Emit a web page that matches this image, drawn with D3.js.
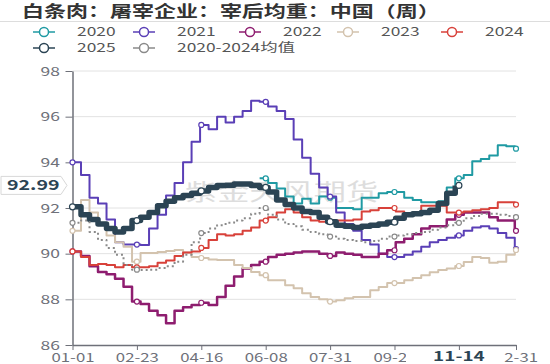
<!DOCTYPE html>
<html>
<head>
<meta charset="utf-8">
<script src="https://cdn.jsdelivr.net/npm/d3@7"></script>
<style>
  body { margin: 0; background: #fff; }
  text { font-family: "Noto Sans CJK SC", "Noto Sans", sans-serif; }
</style>
</head>
<body>
<div id="chart"></div>
<script>
// Tick labels (daily axis, leap-year index) and y ticks
const tickDays = [0, 53, 106, 159, 212, 265, 318, 365];
const tickLabels = ["01-01", "02-23", "04-16", "06-08", "07-31", "09-22", "11-14", "12-31"];
const yTicks = [86, 88, 90, 92, 94, 96, 98];

// Weekly values, week i starts at day i*7
const s2020 = [null, null, null, null, null, null, null, null, null, null, null,
  null, null, null, null, null, null, null, null, null, null, null,
  93.3, 93.1, 92.85, 92.5, 92.2, 92.4, 92.2, 92.5, 92.45, 92.0, 92.0, 91.95, 92.45, 92.45,
  92.65, 92.7, 92.7, 92.45, 92.35, 92.25, 92.25, 92.3, 92.9, 93.3, 93.45, 94.05, 94.15, 94.3,
  94.75, 94.7, 94.6];
const s2021 = [94.0, 93.45, 92.45, 92.2, 91.5, 90.5, 90.4, 90.4, 90.38, 91.1, 91.7, 92.55, 93.1,
  94.0, 94.9, 95.64, 95.45, 96.0, 95.75, 96.0, 96.25, 96.7, 96.65, 96.45, 96.25, 95.9, 95.0,
  94.2, 93.5, 92.9, 92.5, 91.8, 91.3, 91.0, 90.6, 90.4, 90.0, 89.85, 89.85, 89.95, 90.1, 90.3,
  90.5, 90.6, 90.7, 90.8, 91.0, 91.15, 91.2, 91.1, 90.9, 90.7, 90.2];
const s2022 = [90.1, 89.9, 89.45, 89.2, 89.1, 88.9, 88.55, 87.9, 87.8, 87.5, 87.3, 86.95, 87.5,
  87.65, 87.75, 87.85, 87.75, 88.1, 88.6, 89.0, 89.35, 89.5, 89.65, 89.85, 89.95, 90.0, 90.05,
  90.1, 90.1, 90.0, 89.9, 90.05, 90.0, 89.95, 89.85, 89.85, 90.0, 90.15, 90.5, 90.65, 90.85,
  91.1, 91.2, 91.2, 91.5, 91.7, 91.8, 91.8, 91.8, 91.6, 91.45, 91.45, 91.0];
const s2023 = [91.0, 92.35, 91.8, 91.35, 90.8, 90.5, 90.3, 89.65, 90.03, 90.03, 90.07, 90.12,
  90.16, 90.05, 89.85, 89.81, 89.75, 89.72, 89.72, 89.5, 89.37, 89.2, 89.06, 88.84, 88.84,
  88.62, 88.49, 88.27, 88.1, 88.0, 87.9, 87.96, 88.05, 88.1, 88.1, 88.4, 88.54, 88.71, 88.71,
  88.84, 88.93, 89.06, 89.19, 89.28, 89.35, 89.46, 89.63, 89.85, 89.81, 89.6, 89.65, 89.95, 90.16];
const s2024 = [90.1, 89.85, 89.5, 89.55, 89.5, 89.4, 89.5, 89.4, 89.4, 89.45, 89.6, 89.7, 89.9,
  90.05, 90.1, 90.25, 90.6, 90.85, 90.8, 90.85, 91.0, 91.15, 91.45, 91.6, 91.8, 91.95, 91.8,
  91.6, 91.45, 91.4, 91.4, 91.45, 91.45, 91.5, 91.85, 91.9, 92.0, 92.0, 91.85, 91.75, 91.75,
  92.1, 92.1, 92.1, 91.8, 91.8, 91.85, 91.9, 91.95, 92.0, 92.25, 92.25, 92.15];
const s2025 = [92.05, 91.7, 91.5, 91.3, 91.1, 90.95, 91.1, 91.45, 91.6, 91.8, 92.1, 92.3, 92.45,
  92.55, 92.65, 92.75, 92.9, 92.98, 93.0, 93.05, 93.05, 92.98, 92.9, 92.7, 92.35, 92.15, 92.0,
  91.85, 91.8, 91.6, 91.4, 91.25, 91.2, 91.15, 91.2, 91.25, 91.3, 91.38, 91.55, 91.7, 91.75,
  91.8, 91.9, 92.2, 92.65, 92.99];
const sAvg = [91.35, 91.45, 90.95, 90.6, 90.25, 89.95, 89.5, 89.3, 89.28, 89.3, 89.37, 89.45,
  89.65, 89.95, 90.5, 90.9, 91.1, 91.25, 91.35, 91.45, 91.55, 91.75, 92.0, 91.7, 91.5, 91.3,
  91.2, 91.05, 90.95, 90.85, 90.75, 90.65, 90.6, 90.55, 90.5, 90.55, 90.65, 90.75, 90.8, 90.85,
  90.9, 90.95, 91.05, 91.15, 91.25, 91.35, 91.55, 91.65, 91.75, 91.75, 91.7, 91.65, 91.6];

const series = [
  { name: "2020", values: s2020, color: "#1f9aa3", width: 2 },
  { name: "2021", values: s2021, color: "#5a3fb6", width: 2 },
  { name: "2022", values: s2022, color: "#8e1d6f", width: 2.5 },
  { name: "2023", values: s2023, color: "#d3c3ae", width: 2 },
  { name: "2024", values: s2024, color: "#d8413a", width: 2 },
  { name: "2025", values: s2025, color: "#2b4454", width: 5.5 },
  { name: "2020-2024均值", values: sAvg, color: "#8a8a8a", width: 2, dash: "2,3" }
];

const SX = 1.4; // the picture is stretched sideways

const svg = d3.select("#chart")
  .append("svg")
  .attr("width", 550)
  .attr("height", 364);

const x = d3.scaleLinear().domain([0, 365]).range([72.5, 516]);
const y = d3.scaleLinear().domain([86, 98]).range([345, 71]);

// Title + separator
svg.append("text")
  .attr("transform", `translate(22,17) scale(1.42,1)`)
  .attr("font-size", 15.5)
  .attr("font-weight", "bold")
  .attr("fill", "#333")
  .text("白条肉：屠宰企业：宰后均重：中国（周）");
svg.append("line")
  .attr("x1", 0).attr("x2", 550)
  .attr("y1", 21.5).attr("y2", 21.5)
  .attr("stroke", "#ddd");

// Legend
const legendPos = [[44, 32], [144, 32], [250, 32], [348, 32], [452, 32], [44, 48], [144, 48]];
series.forEach(function (s, i) {
  const p = legendPos[i];
  const g = svg.append("g");
  g.append("line")
    .attr("x1", p[0] - 11).attr("x2", p[0] + 11)
    .attr("y1", p[1]).attr("y2", p[1])
    .attr("stroke", s.color).attr("stroke-width", 1.5);
  g.append("circle")
    .attr("cx", p[0]).attr("cy", p[1]).attr("r", 4.5)
    .attr("fill", "#fff").attr("stroke", s.color).attr("stroke-width", 1.5);
  g.append("text")
    .attr("transform", `translate(${p[0] + 33},${p[1]}) scale(1.45,1)`)
    .attr("dy", "0.35em")
    .attr("font-size", 12)
    .attr("fill", "#555")
    .text(s.name);
});

// Grid lines
svg.append("g")
  .selectAll("line")
  .data(yTicks.slice(1))
  .join("line")
  .attr("x1", x(0)).attr("x2", x(365))
  .attr("y1", d => y(d)).attr("y2", d => y(d))
  .attr("stroke", "#e2e2e2");

// Watermark
svg.append("text")
  .attr("transform", `translate(185,200) scale(${SX},1)`)
  .attr("font-size", 23)
  .attr("fill", "#c8c8c8")
  .attr("opacity", 0.6)
  .text("紫金天风期货");

// Y axis
const yAxis = svg.append("g")
  .attr("transform", `translate(${x(0)},0)`)
  .call(d3.axisLeft(y).tickValues(yTicks).tickSize(7).tickSizeOuter(0));
yAxis.select(".domain").attr("stroke", "#6e7079").attr("stroke-width", 1.5);
yAxis.selectAll(".tick line").attr("stroke", "#6e7079");
yAxis.selectAll(".tick text")
  .attr("x", -9)
  .attr("transform", `scale(${SX},1)`)
  .attr("font-size", 12.5)
  .attr("font-family", "Noto Sans CJK SC")
  .attr("fill", "#6e7079");

// X axis
const xAxis = svg.append("g")
  .attr("transform", `translate(0,${y(86)})`)
  .call(d3.axisBottom(x).tickValues(tickDays)
    .tickFormat(function (d, i) { return tickLabels[i]; })
    .tickSize(5).tickSizeOuter(0));
xAxis.select(".domain").attr("stroke", "#6e7079").attr("stroke-width", 1.5);
xAxis.selectAll(".tick line").attr("stroke", "#6e7079");
xAxis.selectAll(".tick text")
  .attr("transform", `scale(${SX},1)`)
  .attr("font-size", 12)
  .attr("font-family", "Noto Sans CJK SC")
  .attr("fill", "#6e7079")
  // the pointer label below stands in for this one
  .style("display", (d, i) => i === 6 ? "none" : null);

// Lines
const line = d3.line()
  .defined(d => d[1] != null)
  .x(d => x(d[0]))
  .y(d => y(d[1]))
  .curve(d3.curveStepAfter);

series.forEach(function (s) {
  const pts = s.values.map((v, i) => [Math.min(i * 7, 365), v]);
  svg.append("path")
    .datum(pts)
    .attr("d", line)
    .attr("fill", "none")
    .attr("stroke", s.color)
    .attr("stroke-width", s.width)
    .attr("stroke-linejoin", "round")
    .attr("stroke-dasharray", s.dash || null);

  // markers at the labelled days
  const marks = tickDays
    .map(d => [d, Math.floor(d / 7)])
    .filter(m => m[1] < s.values.length && s.values[m[1]] != null);
  svg.selectAll(null)
    .data(marks)
    .join("circle")
    .attr("cx", d => x(d[0]))
    .attr("cy", d => y(s.values[d[1]]))
    .attr("r", s.width > 3 ? 3 : 2.5)
    .attr("fill", "#fff")
    .attr("stroke", s.color)
    .attr("stroke-width", 1.2);
});

// Axis pointer labels
const lastVal = s2025[s2025.length - 1];
const py = y(lastVal);
svg.append("path")
  .attr("d", `M1,${py - 9}H61L67,${py}L61,${py + 9}H1Z`)
  .attr("fill", "#fff")
  .attr("stroke", "#d8d8d8");
svg.append("text")
  .attr("transform", `translate(7,${py}) scale(${SX},1)`)
  .attr("dy", "0.36em")
  .attr("font-size", 14)
  .attr("font-weight", "bold")
  .attr("fill", "#2b4454")
  .text(lastVal.toFixed(2));

svg.append("rect")
  .attr("x", 406).attr("y", 350)
  .attr("width", 98).attr("height", 14)
  .attr("fill", "#fff");
svg.append("text")
  .attr("transform", `translate(${x(tickDays[6])},360.5) scale(${SX},1)`)
  .attr("text-anchor", "middle")
  .attr("font-size", 13.5)
  .attr("font-weight", "bold")
  .attr("fill", "#2b4454")
  .text(tickLabels[6]);
</script>
</body>
</html>
